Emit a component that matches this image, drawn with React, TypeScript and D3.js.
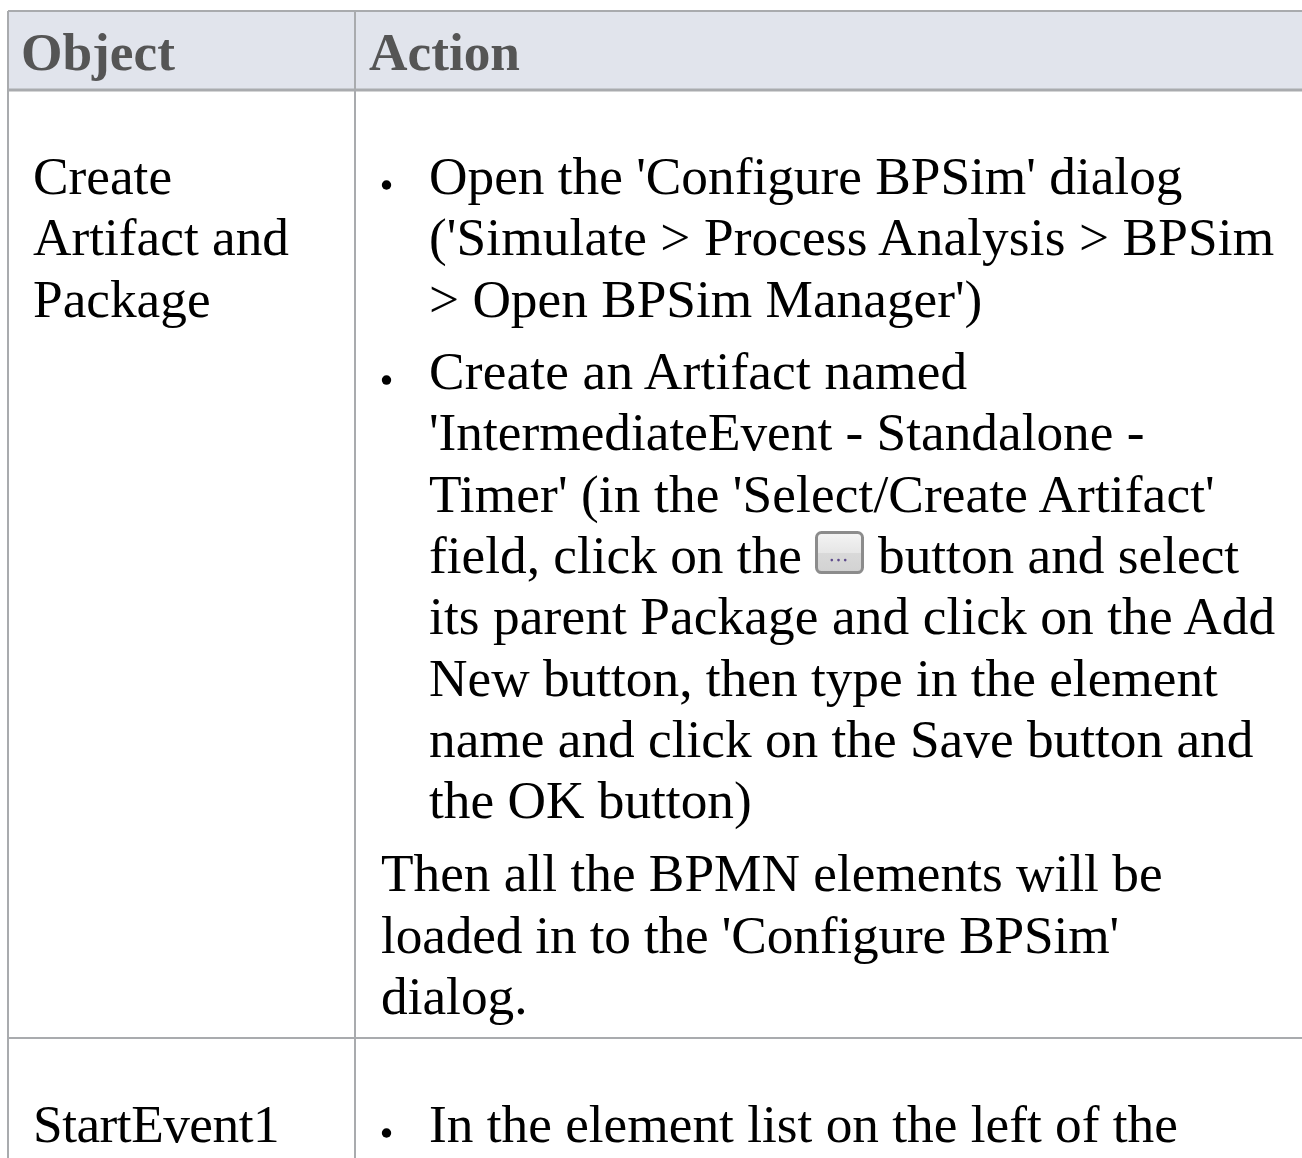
import { useEffect, useRef } from 'react';
import * as d3 from 'd3';

const headers = ['Object', 'Action'];
const objectLines = ['Create', 'Artifact and', 'Package'];
const bulletOne = [
  "Open the 'Configure BPSim' dialog",
  "('Simulate > Process Analysis > BPSim",
  "> Open BPSim Manager')",
];
const bulletTwo = [
  'Create an Artifact named',
  "'IntermediateEvent - Standalone -",
  "Timer' (in the 'Select/Create Artifact'",
  'field, click on the',
  'its parent Package and click on the Add',
  'New button, then type in the element',
  'name and click on the Save button and',
  'the OK button)',
];
const afterButton = 'button and select';
const closingLines = [
  'Then all the BPMN elements will be',
  "loaded in to the 'Configure BPSim'",
  'dialog.',
];
const secondObject = 'StartEvent1';
const secondBullet = 'In the element list on the left of the';

// lines whose run differs a little from the metrics of the installed font
const widthFix: Record<string, number> = {
  "('Simulate > Process Analysis > BPSim": 4,
  'Create an Artifact named': 4,
  "Timer' (in the 'Select/Create Artifact'": 4,
  'its parent Package and click on the Add': 4,
  "loaded in to the 'Configure BPSim'": -5,
  StartEvent1: -5,
};

const WIDTH = 1302;
const HEIGHT = 1158;
const FONT = '"Liberation Serif", serif';
const FONT_SIZE = 53.3;

export default function App() {
  const svgRef = useRef<SVGSVGElement>(null);

  useEffect(() => {
    if (!svgRef.current) return;
    const svg = d3.select(svgRef.current);
    svg.selectAll('*').remove();

    // header band
    svg.append('rect').attr('x', 8).attr('y', 11).attr('width', WIDTH - 8).attr('height', 79).attr('fill', '#e1e4ec');

    const rules = [
      { x1: 8, y1: 11, x2: WIDTH, y2: 11, w: 2 },
      { x1: 8, y1: 90, x2: WIDTH, y2: 90, w: 3 },
      { x1: 8, y1: 1038, x2: WIDTH, y2: 1038, w: 2 },
      { x1: 8, y1: 11, x2: 8, y2: HEIGHT, w: 2 },
      { x1: 355, y1: 11, x2: 355, y2: HEIGHT, w: 2 },
    ];
    svg
      .append('g')
      .selectAll('line')
      .data(rules)
      .join('line')
      .attr('x1', (d) => d.x1)
      .attr('y1', (d) => d.y1)
      .attr('x2', (d) => d.x2)
      .attr('y2', (d) => d.y2)
      .attr('stroke', '#a9abae')
      .attr('stroke-width', (d) => d.w);

    const addText = (s: string, x: number, y: number) => {
      const t = svg
        .append('text')
        .attr('x', x)
        .attr('y', y)
        .attr('font-family', FONT)
        .attr('font-size', FONT_SIZE)
        .attr('fill', '#000')
        .text(s);
      const fix = widthFix[s];
      if (fix) {
        const len = (t.node() as SVGTextElement).getComputedTextLength();
        t.attr('textLength', len + fix).attr('lengthAdjust', 'spacing');
      }
      return t;
    };

    // headers
    svg
      .append('g')
      .selectAll('text')
      .data(headers)
      .join('text')
      .attr('x', (_, i) => (i === 0 ? 21 : 369))
      .attr('y', 70)
      .attr('font-family', FONT)
      .attr('font-size', FONT_SIZE)
      .attr('font-weight', 700)
      .attr('fill', '#555555')
      .text((d) => d);

    // all the body text sits on a regular line pitch
    const lineY = d3.scaleLinear().domain([0, 1]).range([194, 255.34]);

    objectLines.forEach((s, i) => addText(s, 33, lineY(i)));
    bulletOne.forEach((s, i) => addText(s, 429, lineY(i)));

    const offset = 3.18;
    bulletTwo.forEach((s, i) => addText(s, 429, lineY(i + offset)));

    const closeOffset = offset + bulletTwo.length + 0.19;
    closingLines.forEach((s, i) => addText(s, 381, lineY(i + closeOffset)));

    // bullets
    const bulletRows = [0, offset];
    svg
      .append('g')
      .selectAll('circle')
      .data(bulletRows)
      .join('circle')
      .attr('cx', 386.5)
      .attr('cy', (d) => lineY(d) - 9)
      .attr('r', 4.7)
      .attr('fill', '#000');

    // inline "..." button
    const buttonRow = lineY(offset + 3);
    addText(afterButton, 878, buttonRow);
    const btn = svg.append('g').attr('transform', `translate(815,${buttonRow - 42})`);
    const grad = svg.append('defs').append('linearGradient').attr('id', 'btnFill').attr('x1', 0).attr('x2', 0).attr('y1', 0).attr('y2', 1);
    grad.append('stop').attr('offset', '0').attr('stop-color', '#f4f4f4');
    grad.append('stop').attr('offset', '0.5').attr('stop-color', '#e6e6e6');
    grad.append('stop').attr('offset', '0.52').attr('stop-color', '#d9d9d9');
    grad.append('stop').attr('offset', '1').attr('stop-color', '#d2d2d2');
    btn.append('rect').attr('x', 1.5).attr('y', 1.5).attr('width', 46).attr('height', 40).attr('rx', 5).attr('fill', 'url(#btnFill)').attr('stroke', '#8c8c8c').attr('stroke-width', 3);
    btn
      .selectAll('circle')
      .data([-6.7, 0, 6.7])
      .join('circle')
      .attr('cx', (d) => 23.5 + d)
      .attr('cy', 29)
      .attr('r', 1.3)
      .attr('fill', '#5d4a8c');

    // second row, cut off by the bottom of the page
    addText(secondObject, 33, 1142);
    addText(secondBullet, 429, 1142);
    svg.append('circle').attr('cx', 386.5).attr('cy', 1133).attr('r', 4.7).attr('fill', '#000');
  }, []);

  return (
    <svg
      ref={svgRef}
      width={WIDTH}
      height={HEIGHT}
      style={{ position: 'fixed', left: 0, top: 0, display: 'block', background: '#fff' }}
    />
  );
}
